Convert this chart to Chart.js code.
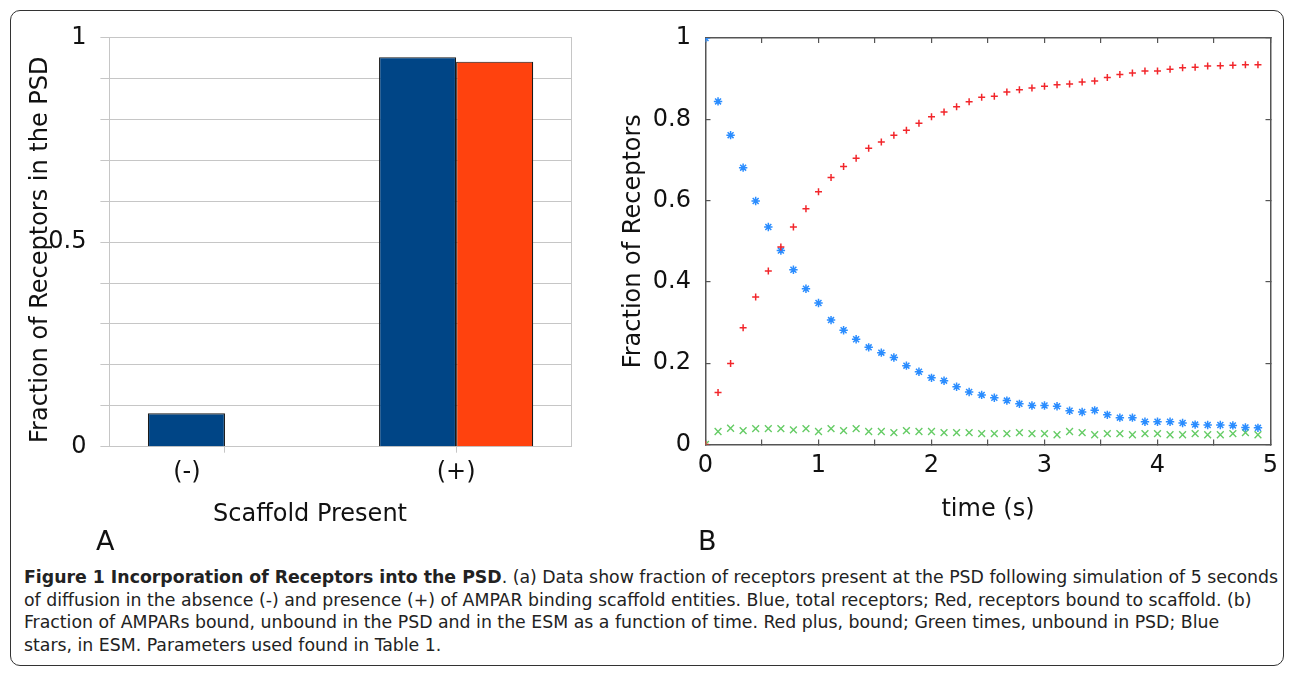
<!DOCTYPE html>
<html>
<head>
<meta charset="utf-8">
<script src="https://cdn.jsdelivr.net/npm/chart.js@4.4.1/dist/chart.umd.min.js"></script>
<style>
  body { margin: 0; background: #fff; width: 1293px; height: 673px; position: relative; overflow: hidden; font-family: 'DejaVu Sans', sans-serif; }
  #frame { position: absolute; left: 10px; top: 10px; width: 1274px; height: 656px; border: 1.5px solid #333; border-radius: 10px; box-sizing: border-box; }
  #chartA { position: absolute; left: 0; top: 0; }
  #chartB { position: absolute; left: 600px; top: 0; }
  .panel { position: absolute; font-size: 27px; line-height: 27px; color: #111; }
  #caption { position: absolute; left: 24px; top: 566px; color: #222; font-family: 'Liberation Sans Narrow', 'DejaVu Sans Condensed', 'Open Sans', sans-serif; font-size: 18px; }
  #caption div { white-space: nowrap; height: 22.6px; line-height: 22.6px; transform-origin: 0 50%; }
  #caption span { display: inline-block; }
</style>
</head>
<body>
<div id="frame"></div>
<canvas id="chartA" width="600" height="540"></canvas>
<canvas id="chartB" width="693" height="540"></canvas>
<div class="panel" style="left:96px; top:527px;">A</div>
<div class="panel" style="left:698px; top:527px;">B</div>
<div id="caption">
  <div><span id="firstLine"><b>Figure 1 Incorporation of Receptors into the PSD</b>. (a) Data show fraction of receptors present at the PSD following simulation of 5 seconds</span></div>
  <div><span>of diffusion in the absence (-) and presence (+) of AMPAR binding scaffold entities. Blue, total receptors; Red, receptors bound to scaffold. (b)</span></div>
  <div><span>Fraction of AMPARs bound, unbound in the PSD and in the ESM as a function of time. Red plus, bound; Green times, unbound in PSD; Blue</span></div>
  <div><span>stars, in ESM. Parameters used found in Table 1.</span></div>
</div>
<script>
// panel A: fraction of receptors in the PSD after 5 s
const scaffold = ['(-)', '(+)'];
const totalReceptors = [0.0815, 0.952];
const boundReceptors = [null, 0.941];

// panel B: time course
const times = [0, 0.111, 0.222, 0.333, 0.444, 0.556, 0.667, 0.778, 0.889, 1.0,
  1.111, 1.222, 1.333, 1.444, 1.556, 1.667, 1.778, 1.889, 2.0, 2.111,
  2.222, 2.333, 2.444, 2.556, 2.667, 2.778, 2.889, 3.0, 3.111, 3.222,
  3.333, 3.444, 3.556, 3.667, 3.778, 3.889, 4.0, 4.111, 4.222, 4.333,
  4.444, 4.556, 4.667, 4.778, 4.889];
const bound = [0, 0.128, 0.199, 0.287, 0.363, 0.427, 0.486, 0.535, 0.580, 0.622,
  0.657, 0.684, 0.704, 0.729, 0.744, 0.761, 0.773, 0.790, 0.806, 0.818,
  0.831, 0.843, 0.854, 0.857, 0.867, 0.873, 0.877, 0.881, 0.885, 0.887,
  0.892, 0.894, 0.903, 0.910, 0.914, 0.919, 0.919, 0.923, 0.927, 0.928,
  0.931, 0.932, 0.933, 0.934, 0.934];
const unboundPSD = [0, 0.032, 0.040, 0.034, 0.039, 0.039, 0.039, 0.036, 0.039, 0.032,
  0.039, 0.034, 0.039, 0.032, 0.032, 0.029, 0.034, 0.032, 0.032, 0.029,
  0.029, 0.029, 0.027, 0.027, 0.027, 0.029, 0.027, 0.027, 0.024, 0.032,
  0.029, 0.024, 0.027, 0.027, 0.024, 0.027, 0.027, 0.024, 0.024, 0.027,
  0.024, 0.024, 0.027, 0.029, 0.024];
const inESM = [1.0, 0.844, 0.761, 0.681, 0.599, 0.535, 0.477, 0.430, 0.383, 0.348,
  0.306, 0.281, 0.259, 0.239, 0.226, 0.214, 0.194, 0.179, 0.164, 0.157,
  0.142, 0.129, 0.122, 0.115, 0.108, 0.100, 0.096, 0.096, 0.094, 0.083,
  0.080, 0.084, 0.073, 0.066, 0.066, 0.056, 0.056, 0.056, 0.053, 0.049,
  0.048, 0.048, 0.047, 0.042, 0.041];

Chart.defaults.font.family = "'DejaVu Sans', sans-serif";
Chart.defaults.color = '#111';

const fixSize = (w, h) => s => {
  if (w !== null) s.width = w;
  if (h !== null) s.height = h;
  s.paddingLeft = s.paddingRight = s.paddingTop = s.paddingBottom = 0;
};

const gridGray = '#c6c6c6';

new Chart(document.getElementById('chartA'), {
  type: 'bar',
  data: {
    labels: scaffold,
    datasets: [
      { label: 'Total', data: totalReceptors, backgroundColor: '#004586', borderColor: '#1a1a1a', borderWidth: 1.2 },
      { label: 'Bound to scaffold', data: boundReceptors, backgroundColor: '#ff420e', borderColor: '#1a1a1a', borderWidth: 1.2 }
    ]
  },
  options: {
    responsive: false,
    animation: false,
    categoryPercentage: 0.667,
    barPercentage: 1,
    layout: { padding: { left: 26, top: 37.5, right: 28.3, bottom: 10.6 } },
    plugins: { legend: { display: false }, tooltip: { enabled: false } },
    scales: {
      x: {
        grid: { drawOnChartArea: false, offset: false, tickLength: 6, color: gridGray },
        border: { color: gridGray },
        ticks: {
          padding: 6,
          font: { size: 24 },
          callback: (v, i) => i === 0 ? scaffold[i] + '          ' : scaffold[i]
        },
        title: { display: true, text: 'Scaffold Present        ', font: { size: 24 }, padding: 0 },
        afterFit: fixSize(null, 82.7)
      },
      y: {
        min: 0,
        max: 1,
        grid: { color: gridGray, tickLength: 9 },
        border: { color: gridGray },
        ticks: {
          stepSize: 0.1,
          padding: 14,
          font: { size: 24 },
          callback: v => Math.abs(v * 2 - Math.round(v * 2)) < 1e-6 ? String(+v.toFixed(1)) : ''
        },
        title: { display: true, text: 'Fraction of Receptors in the PSD  ', font: { size: 24 }, padding: 0 },
        afterFit: fixSize(83.4, null)
      },
      y2: {
        position: 'right',
        min: 0,
        max: 1,
        ticks: { display: false },
        grid: { drawOnChartArea: false, drawTicks: false },
        border: { color: gridGray },
        afterFit: fixSize(0, null)
      }
    }
  }
});

const axisGray = '#555';
const inward = { drawOnChartArea: false, tickLength: -5, color: axisGray, lineWidth: 1.2 };

new Chart(document.getElementById('chartB'), {
  type: 'scatter',
  data: {
    datasets: [
      { label: 'bound', data: times.map((t, i) => ({ x: t, y: bound[i] })),
        pointStyle: 'cross', pointRadius: 3.5, borderColor: '#f2262b', borderWidth: 1.5 },
      { label: 'in ESM', data: times.map((t, i) => ({ x: t, y: inESM[i] })),
        pointStyle: 'star', pointRadius: 4.2, borderColor: '#2b8dff', borderWidth: 1.5 },
      { label: 'unbound in PSD', data: times.map((t, i) => ({ x: t, y: unboundPSD[i] })),
        pointStyle: 'crossRot', pointRadius: 4.8, borderColor: '#66cc66', borderWidth: 1.4 }
    ]
  },
  options: {
    responsive: false,
    animation: false,
    layout: { padding: { left: 19.6, top: 38, right: 22.5, bottom: 16 } },
    plugins: { legend: { display: false }, tooltip: { enabled: false } },
    scales: {
      x: {
        type: 'linear',
        min: 0,
        max: 5,
        grid: inward,
        border: { color: axisGray, width: 1.5 },
        ticks: { stepSize: 0.5, padding: 12, font: { size: 24 }, callback: v => Number.isInteger(v) ? String(v) : '' },
        title: { display: true, text: 'time (s)', font: { size: 24 }, padding: 0 },
        afterFit: fixSize(null, 79.5)
      },
      y: {
        min: 0,
        max: 1,
        grid: inward,
        border: { color: axisGray, width: 1.5 },
        ticks: { stepSize: 0.2, padding: 19.5, font: { size: 24 }, callback: v => String(+v.toFixed(1)) },
        title: { display: true, text: 'Fraction of Receptors', font: { size: 24 }, padding: 0 },
        afterFit: fixSize(85.9, null)
      },
      x2: {
        type: 'linear',
        position: 'top',
        min: 0,
        max: 5,
        grid: inward,
        border: { color: axisGray, width: 1.5 },
        ticks: { display: false, stepSize: 0.5 },
        afterFit: fixSize(null, 0)
      },
      y2: {
        type: 'linear',
        position: 'right',
        min: 0,
        max: 1,
        grid: inward,
        border: { color: axisGray, width: 1.5 },
        ticks: { display: false, stepSize: 0.2 },
        afterFit: fixSize(0, null)
      }
    }
  }
});

// squeeze caption lines to the width of the original text block
const natural = document.getElementById('firstLine').getBoundingClientRect().width;
const k = 1254 / natural;
document.querySelectorAll('#caption div').forEach(d => { d.style.transform = 'scaleX(' + k + ')'; });
</script>
</body>
</html>
